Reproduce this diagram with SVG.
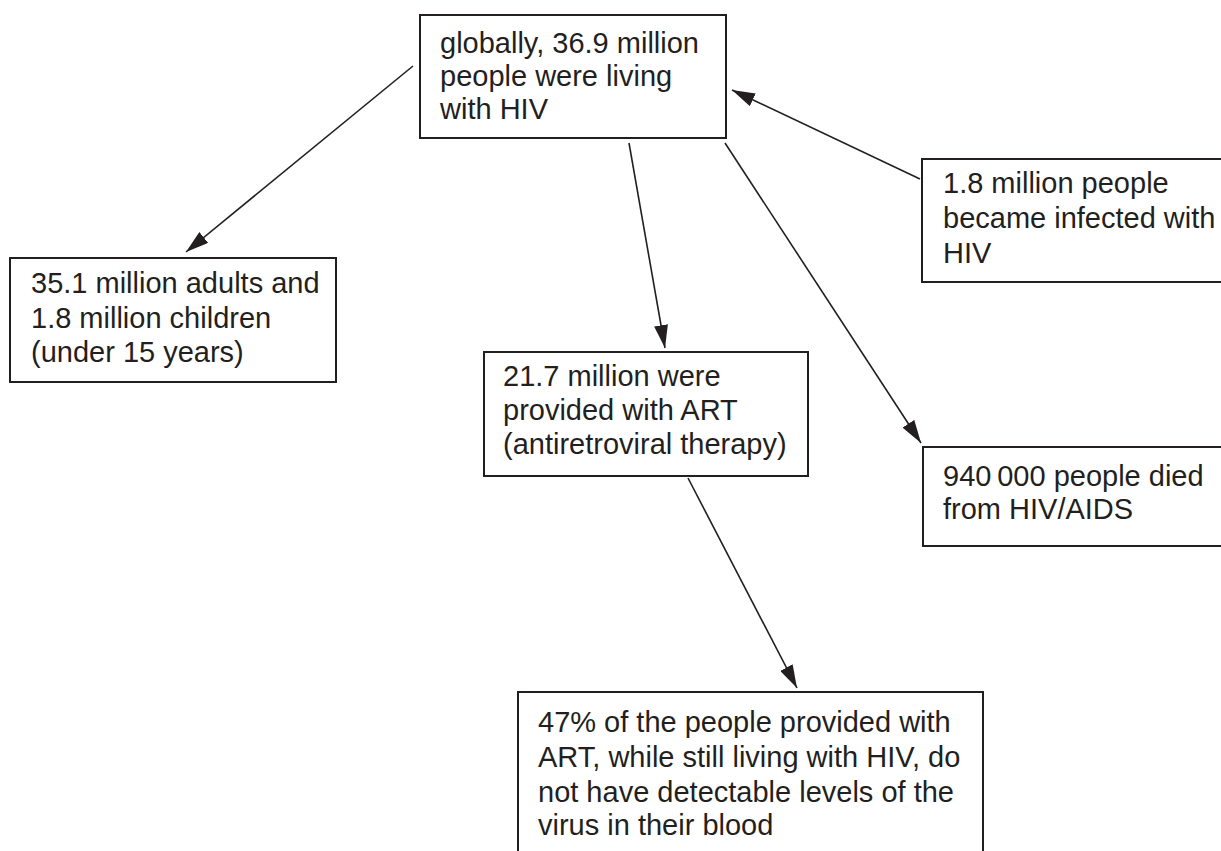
<svg xmlns="http://www.w3.org/2000/svg" width="1221" height="851" viewBox="0 0 1221 851">
<defs>
<style>
.box{fill:#fff;stroke:#231f20;stroke-width:2}
.t{font-family:"Liberation Sans",Arial,sans-serif;font-size:29px;fill:#231f20}
.c{stroke:#231f20;stroke-width:1.6;fill:none;marker-end:url(#ah)}
</style>
<marker id="ah" markerUnits="userSpaceOnUse" markerWidth="24" markerHeight="14" refX="23" refY="7" orient="auto">
<path d="M0,0 L23,7 L0,14 Z" fill="#231f20"/>
</marker>
</defs>
<rect width="1221" height="851" fill="#fff"/>
<g id="connectors">
<line class="c" x1="413" y1="66" x2="186" y2="252"/>
<line class="c" x1="629" y1="143" x2="665" y2="348"/>
<line class="c" x1="725" y1="143" x2="921" y2="443"/>
<line class="c" x1="920" y1="179" x2="732" y2="90"/>
<line class="c" x1="688" y1="478" x2="797" y2="688"/>
</g>
<g id="n-global">
<rect class="box" x="420" y="15" width="306" height="123"/>
<text class="t" x="440" y="53">globally, 36.9 million</text>
<text class="t" x="440" y="86">people were living</text>
<text class="t" x="440" y="119">with HIV</text>
</g>
<g id="n-infected">
<rect class="box" x="922" y="159" width="320" height="123"/>
<text class="t" x="943" y="193">1.8 million people</text>
<text class="t" x="943" y="228">became infected with</text>
<text class="t" x="943" y="263">HIV</text>
</g>
<g id="n-adults">
<rect class="box" x="10" y="258" width="326" height="124"/>
<text class="t" x="31" y="293">35.1 million adults and</text>
<text class="t" x="31" y="328">1.8 million children</text>
<text class="t" x="31" y="362">(under 15 years)</text>
</g>
<g id="n-art">
<rect class="box" x="484" y="352" width="324" height="124"/>
<text class="t" x="503" y="386">21.7 million were</text>
<text class="t" x="503" y="420">provided with ART</text>
<text class="t" x="503" y="454">(antiretroviral therapy)</text>
</g>
<g id="n-died">
<rect class="box" x="923" y="447" width="320" height="99"/>
<text class="t" x="943" y="486">940&#8201;000 people died</text>
<text class="t" x="943" y="519">from HIV/AIDS</text>
</g>
<g id="n-47">
<rect class="box" x="518" y="692" width="465" height="180"/>
<text class="t" x="538" y="732">47% of the people provided with</text>
<text class="t" x="538" y="767">ART, while still living with HIV, do</text>
<text class="t" x="538" y="802">not have detectable levels of the</text>
<text class="t" x="538" y="835">virus in their blood</text>
</g>
</svg>
